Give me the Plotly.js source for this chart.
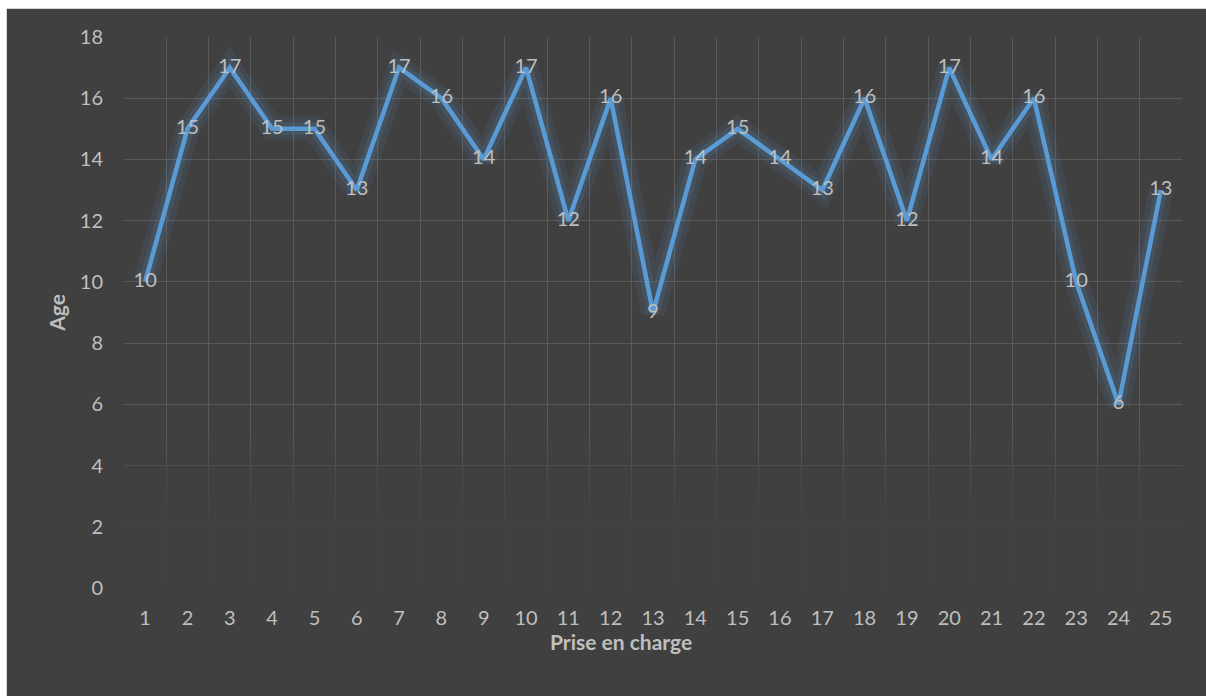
<!DOCTYPE html>
<html>
<head>
<meta charset="utf-8">
<script src="https://cdn.plot.ly/plotly-3.0.1.min.js"></script>
<style>
  html, body { margin: 0; padding: 0; background: #ffffff; width: 1206px; height: 696px; overflow: hidden; }
  #frame { position: absolute; left: 6px; top: 8px; width: 1200px; height: 688px; border-left: 1px solid #d4d4d4; border-top: 1px solid #d4d4d4; background: #404040; }
  #plot { position: absolute; left: 0; top: 0; width: 1200px; height: 688px; }
  #fade { position: absolute; left: 118px; top: 415px; width: 1058px; height: 165px;
          background: linear-gradient(to bottom, rgba(64,64,64,0) 0%, rgba(64,64,64,0.8) 50%, rgba(64,64,64,1) 100%);
          pointer-events: none; }
</style>
</head>
<body>
<div id="frame">
  <div id="plot"></div>
  <div id="fade"></div>
</div>
<script>
const categories = [1,2,3,4,5,6,7,8,9,10,11,12,13,14,15,16,17,18,19,20,21,22,23,24,25];
const ages = [10,15,17,15,15,13,17,16,14,17,12,16,9,14,15,14,13,16,12,17,14,16,10,6,13];
const yTicks = [0,2,4,6,8,10,12,14,16,18];

// category boundaries for the vertical grid lines
const boundaries = [categories[0] - 0.5].concat(categories.map(c => c + 0.5));

const labelColor = '#bfbfbf';
const fontFam = 'Lato, "Open Sans", sans-serif';
const gridColor = '#595959';

const glow1 = { x: categories, y: ages, type: 'scatter', mode: 'lines',
  line: { color: 'rgba(91,155,213,0.09)', width: 24 }, hoverinfo: 'skip', showlegend: false };
const glow2 = { x: categories, y: ages, type: 'scatter', mode: 'lines',
  line: { color: 'rgba(91,155,213,0.14)', width: 13 }, hoverinfo: 'skip', showlegend: false };
const main = { x: categories, y: ages, type: 'scatter', mode: 'lines+text',
  text: ages.map(String), textposition: 'middle center',
  textfont: { family: fontFam, size: 20, color: labelColor },
  line: { color: '#5B9BD5', width: 4.5 }, showlegend: false };
const labelsAxis = { x: categories, y: ages, xaxis: 'x2', type: 'scatter', mode: 'none',
  hoverinfo: 'skip', showlegend: false };

const layout = {
  width: 1200, height: 688,
  paper_bgcolor: '#404040', plot_bgcolor: '#404040',
  margin: { l: 117, r: 25, t: 28, b: 109 },
  font: { family: fontFam, color: labelColor, size: 20 },
  xaxis: {
    range: [0.5, 25.5], tickvals: boundaries, ticktext: boundaries.map(() => ''),
    showgrid: true, gridcolor: gridColor, gridwidth: 1,
    zeroline: false, showline: false, ticks: ''
  },
  xaxis2: {
    overlaying: 'x', side: 'bottom', anchor: 'y',
    range: [0.5, 25.5], tickvals: categories, ticktext: categories.map(String),
    showgrid: false, zeroline: false, showline: false, ticks: '',
    ticklabelstandoff: 16,
    tickfont: { family: fontFam, size: 20, color: labelColor }
  },
  yaxis: {
    range: [0, 18], tickvals: yTicks, ticktext: yTicks.map(String),
    showgrid: true, gridcolor: gridColor, gridwidth: 1, zeroline: false, showline: false, ticks: '',
    ticklabelstandoff: 20,
    tickfont: { family: fontFam, size: 20, color: labelColor }
  },
  annotations: [
    { text: '<b>Prise en charge</b>', xref: 'paper', yref: 'paper', x: 0.4697, y: -0.098,
      xanchor: 'center', yanchor: 'middle', showarrow: false,
      font: { family: fontFam, size: 21, color: labelColor } },
    { text: '<b>Age</b>', xref: 'paper', yref: 'paper', x: -0.064, y: 0.5, textangle: -90,
      xanchor: 'center', yanchor: 'middle', showarrow: false,
      font: { family: fontFam, size: 21, color: labelColor } }
  ]
};

Plotly.newPlot('plot', [labelsAxis, glow1, glow2, main], layout, { displayModeBar: false, staticPlot: true });
</script>
</body>
</html>
